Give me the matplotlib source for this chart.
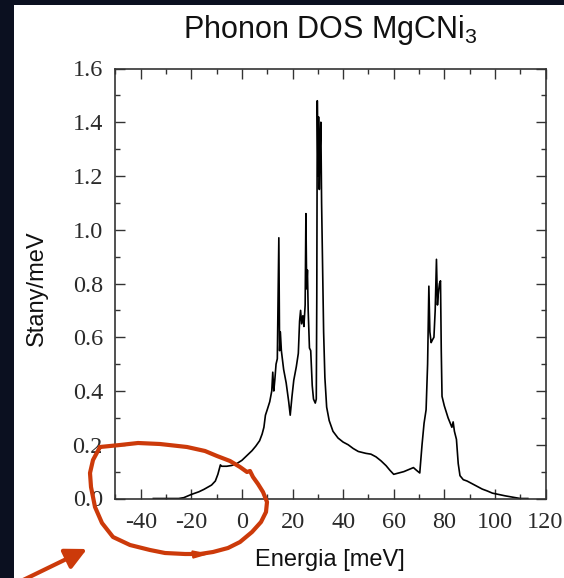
import numpy as np
import matplotlib
matplotlib.use("Agg")
import matplotlib.pyplot as plt
from matplotlib.patches import Rectangle, FancyArrowPatch
from matplotlib.ticker import MultipleLocator

plt.rcParams['axes.unicode_minus'] = False
plt.rcParams['mathtext.fontset'] = 'custom'
plt.rcParams['mathtext.rm'] = 'Liberation Sans'

# phonon DOS
energy = [-35, -25, -23, -20, -17, -15, -12, -10.5, -9.5, -8.8, -8.5, -8, -6, -4, -2, 0,
          2, 4, 5.5, 7, 8, 8.7, 9.3, 10, 11, 11.8, 12.2, 12.6, 13.0, 13.5, 14.0, 14.6,
          14.9, 15.2, 15.6, 16.5, 17.5, 18.5, 19.1, 19.8, 20.5, 21.5, 22.3, 22.8, 23.2,
          23.6, 24.1, 24.5, 25.0, 25.3, 25.6, 25.9, 26.2, 26.7, 27.2, 27.8, 28.3, 29.0,
          29.4, 29.6, 29.8, 30.1, 30.3, 30.6, 30.9, 31.2, 31.5, 31.9, 32.3, 32.8, 33.5,
          34.5, 36, 38, 40, 42, 44, 46, 49, 51, 53, 55, 57, 58.5, 60, 62, 64, 66, 67.8,
          69, 70.3, 71.2, 72, 72.8, 73.4, 73.9, 74.3, 74.8, 75.3, 75.9, 76.4, 76.9, 77.3,
          77.6, 78.1, 78.5, 78.8, 79.1, 80, 81.5, 83, 83.5, 84, 84.8, 85.5, 86.2, 87.5,
          89, 91, 93, 95, 97, 99, 101, 104, 107, 110, 113]
dos = [0, 0, 0.003, 0.015, 0.025, 0.034, 0.05, 0.065, 0.09, 0.115, 0.125, 0.12, 0.12, 0.123, 0.13, 0.142,
       0.16, 0.178, 0.195, 0.215, 0.24, 0.265, 0.31, 0.33, 0.36, 0.40, 0.47, 0.40, 0.44, 0.50, 0.52, 0.97,
       0.55, 0.62, 0.55, 0.48, 0.43, 0.36, 0.31, 0.38, 0.44, 0.49, 0.54, 0.66, 0.70,
       0.65, 0.68, 0.64, 0.72, 1.06, 0.78, 0.85, 0.70, 0.56, 0.55, 0.42, 0.37, 0.355,
       0.37, 0.75, 1.48, 1.20, 1.42, 1.15, 1.30, 1.40, 1.10, 0.85, 0.62, 0.45, 0.34,
       0.29, 0.25, 0.225, 0.21, 0.20, 0.186, 0.175, 0.168, 0.165, 0.155, 0.14, 0.122, 0.105, 0.09, 0.095, 0.10, 0.108, 0.115,
       0.105, 0.095, 0.2, 0.28, 0.33, 0.5, 0.79, 0.62, 0.58, 0.59, 0.60, 0.70, 0.89, 0.72,
       0.76, 0.80, 0.81, 0.55, 0.38, 0.345, 0.30, 0.265, 0.285, 0.25, 0.22, 0.13, 0.085, 0.07,
       0.065, 0.055, 0.045, 0.035, 0.028, 0.02, 0.016, 0.01, 0.005, 0.0, 0.0]

title = "Phonon DOS MgCNi$_\\mathregular{3}$"
xlabel = "Energia [meV]"
ylabel = "Stany/meV"

# hand drawn red loop, figure pixels from the top left
loop_x = [100, 120, 138, 160, 187, 205, 217, 230, 240, 247, 250, 253, 258, 263, 267, 266, 261,
          252, 240, 228, 213, 200, 185, 165, 150, 130, 113, 102, 95, 91, 90, 93, 100]
loop_y = [447, 445, 443, 444, 447, 451, 456, 461, 467, 472, 471, 477, 484, 492, 502, 512, 522,
          532, 542, 548, 552, 554, 554, 553, 550, 545, 537, 523, 507, 487, 473, 460, 447]

W, H = 564, 578
fig = plt.figure(figsize=(W / 100, H / 100), dpi=100, facecolor='#0b1020')
fig.patches.append(Rectangle((14 / W, 0), 1 - 14 / W, 1 - 5 / H, transform=fig.transFigure,
                             facecolor='white', edgecolor='none', zorder=0))

ax = fig.add_axes([115.4 / W, 79.5 / H, 430.1 / W, 430 / H])
ax.set_zorder(2)
ax.patch.set_alpha(0)
ax.plot(energy, dos, color='black', lw=1.2)
ax.set_xlim(-50, 120)
ax.set_ylim(0, 1.6)
ax.xaxis.set_major_locator(MultipleLocator(20))
ax.xaxis.set_minor_locator(MultipleLocator(10))
ax.yaxis.set_major_locator(MultipleLocator(0.2))
ax.yaxis.set_minor_locator(MultipleLocator(0.1))
ax.yaxis.set_major_formatter(matplotlib.ticker.FormatStrFormatter('%.1f'))
ax.tick_params(which='both', direction='in', top=True, right=True, width=1, color='#333333')
ax.tick_params(which='major', length=7, labelsize=17.5, labelcolor='#2a2a2a')
ax.tick_params(axis='x', which='major', pad=10)
ax.tick_params(axis='y', which='major', pad=9)
ax.tick_params(which='minor', length=3.5)
for lab in ax.get_xticklabels() + ax.get_yticklabels():
    lab.set_fontfamily('Liberation Serif')
for s in ax.spines.values():
    s.set_linewidth(1.2)
    s.set_color('#333333')

fig.text(330 / W, 1 - 38 / H, title, ha='center', va='baseline', fontsize=22,
         family='Liberation Sans', color='#111111', zorder=3)
fig.text(330 / W, 1 - 566 / H, xlabel, ha='center', va='baseline', fontsize=17,
         family='Liberation Sans', color='#111111', zorder=3)
fig.text(37 / W, 1 - 288 / H, ylabel, ha='center', va='center', rotation=90, fontsize=17,
         family='Liberation Sans', color='#111111', zorder=3)

# red annotation
red = '#cc3a0a'
fig.add_artist(plt.Line2D([x / W for x in loop_x], [1 - y / H for y in loop_y],
                          transform=fig.transFigure, color=red, lw=3, solid_joinstyle='round',
                          solid_capstyle='round', zorder=5))
fig.add_artist(plt.Polygon([[192 / W, 1 - 551 / H], [207 / W, 1 - 554 / H], [193 / W, 1 - 558 / H]],
                           closed=True, transform=fig.transFigure, color=red, zorder=5))
fig.add_artist(FancyArrowPatch((15 / W, 1 - 584 / H), (87 / W, 1 - 549 / H),
                               transform=fig.transFigure, arrowstyle='-|>', color=red, lw=3,
                               mutation_scale=32, shrinkA=0, shrinkB=0, zorder=5))

fig.savefig('out.png', dpi=100, facecolor=fig.get_facecolor())
